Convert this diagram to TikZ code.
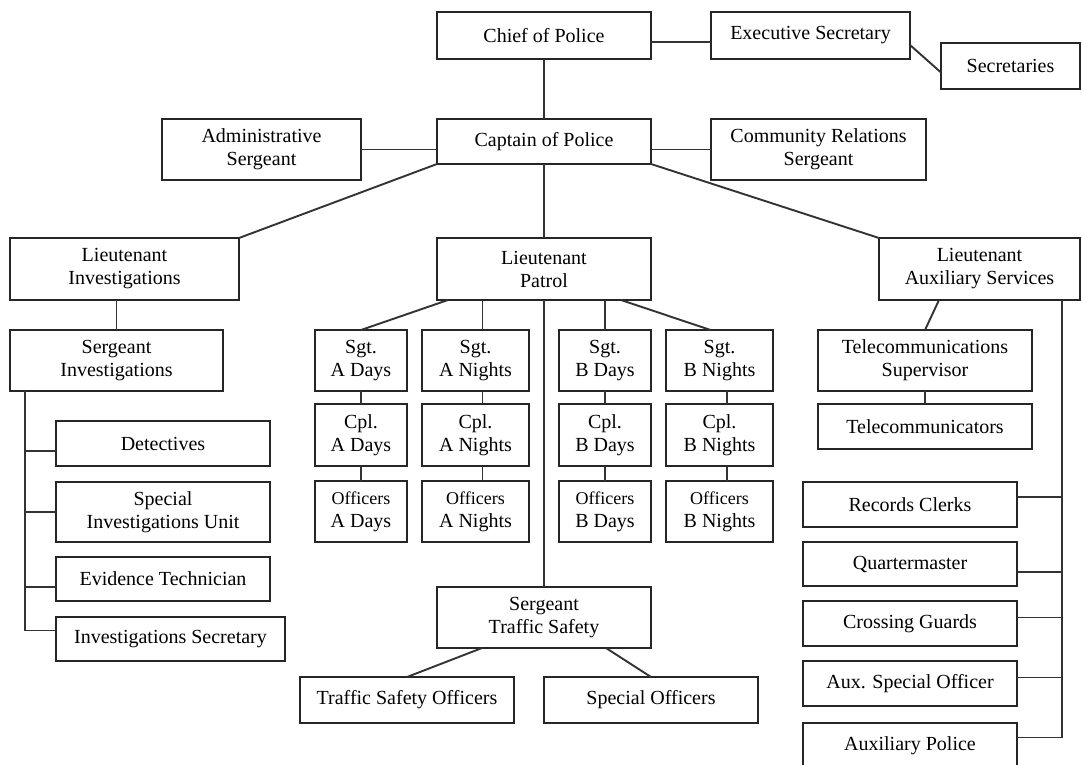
\documentclass[tikz,border=0pt]{standalone}
\usepackage{fontspec}
\setmainfont{Liberation Serif}
\newcommand\orgbox[6]{\node[box,minimum width={#4-#2},minimum height={#5-#3}] (#1) at ({(#2+#4)/2},{(#3+#5)/2}) {#6};}
\newcommand\offtxt{\fontsize{18}{22}\selectfont}
\tikzset{
  box/.style={draw=black!85,line width=1.6pt,rectangle,inner sep=0pt,outer sep=0pt,align=center,
    font=\fontsize{20}{23}\selectfont,fill=white},
  link/.style={draw=black!80,line width=1.9pt}
}
\begin{document}
\begin{tikzpicture}[x=1pt,y=-1pt]
\useasboundingbox (0,0) rectangle (1082,765);
\clip (0,0) rectangle (1082,765);
\fill[white] (0,0) rectangle (1082,765);
% top
\orgbox{chief}{437}{12}{651}{59}{Chief of Police}
\orgbox{exec}{711}{12}{910}{59}{Executive Secretary}
\orgbox{secs}{941}{43}{1080}{89}{Secretaries}
\orgbox{admin}{162}{119}{361}{180}{Administrative\\Sergeant}
\orgbox{captain}{437}{119}{651}{164}{Captain of Police}
\orgbox{comm}{711}{119}{926}{180}{Community Relations\\Sergeant}
% lieutenants
\orgbox{ltinv}{10}{238}{239}{300}{Lieutenant\\Investigations}
\orgbox{ltpat}{437}{238}{651}{300}{Lieutenant\\Patrol}
\orgbox{ltaux}{879}{238}{1080}{300}{Lieutenant\\Auxiliary Services}
% investigations
\orgbox{sgtinv}{10}{330}{223}{391}{Sergeant\\Investigations}
\orgbox{det}{56}{421}{270}{466}{Detectives}
\orgbox{siu}{56}{482}{270}{542}{Special\\Investigations Unit}
\orgbox{evid}{56}{557}{270}{601}{Evidence Technician}
\orgbox{isec}{56}{617}{285}{661}{Investigations Secretary}
% patrol
\orgbox{sad}{315}{330}{407}{391}{Sgt.\\A Days}
\orgbox{san}{422}{330}{529}{391}{Sgt.\\A Nights}
\orgbox{sbd}{559}{330}{651}{391}{Sgt.\\B Days}
\orgbox{sbn}{666}{330}{773}{391}{Sgt.\\B Nights}
\orgbox{cad}{315}{404}{407}{466}{Cpl.\\A Days}
\orgbox{can}{422}{404}{529}{466}{Cpl.\\A Nights}
\orgbox{cbd}{559}{404}{651}{466}{Cpl.\\B Days}
\orgbox{cbn}{666}{404}{773}{466}{Cpl.\\B Nights}
\orgbox{oad}{315}{481}{407}{542}{{\offtxt Officers}\\A Days}
\orgbox{oan}{422}{481}{529}{542}{{\offtxt Officers}\\A Nights}
\orgbox{obd}{559}{481}{651}{542}{{\offtxt Officers}\\B Days}
\orgbox{obn}{666}{481}{773}{542}{{\offtxt Officers}\\B Nights}
\orgbox{sts}{437}{587}{651}{648}{Sergeant\\Traffic Safety}
\orgbox{tso}{300}{677}{514}{723}{Traffic Safety Officers}
\orgbox{so}{544}{677}{758}{723}{Special Officers}
% auxiliary
\orgbox{tsup}{818}{330}{1032}{391}{Telecommunications\\Supervisor}
\orgbox{tcom}{818}{404}{1032}{449}{Telecommunicators}
\orgbox{rec}{803}{482}{1017}{527}{Records Clerks}
\orgbox{qm}{803}{542}{1017}{586}{Quartermaster}
\orgbox{cg}{803}{601}{1017}{646}{Crossing Guards}
\orgbox{aso}{803}{661}{1017}{706}{Aux. Special Officer}
\orgbox{ap}{803}{723}{1017}{768}{Auxiliary Police}
\coordinate (ibus) at (25,391);
\coordinate (abus) at (1062,300);
% connectors top
\draw[link] ([yshift=-6.5]chief.east) -- ([yshift=-6.5]exec.west);
\draw[link] ([yshift=-9.5]exec.east) -- ([yshift=-6.5]secs.west);
\draw[link] (chief.south) -- (captain.north);
\draw[link] (admin.east) -- (admin.east -| captain.west);
\draw[link] (comm.west) -- (comm.west -| captain.east);
\draw[link] (captain.south west) -- (ltinv.north east);
\draw[link] (captain.south east) -- (ltaux.north west);
\draw[link] (captain.south) -- (ltpat.north);
% investigations
\draw[link] (sgtinv.north) -- (sgtinv.north |- ltinv.south);
\draw[link] ([yshift=-7.5]det.west) -| (ibus);
\draw[link] (siu.west) -| (ibus);
\draw[link] ([yshift=-8]evid.west) -| (ibus);
\draw[link] ([yshift=8.5]isec.west) -| (ibus);
% patrol
\draw[link] ([xshift=-96]ltpat.south) -- (sad.north);
\draw[link] ([xshift=7]san.north) -- ([xshift=7]san.north |- ltpat.south);
\draw[link] (sbd.north) -- (sbd.north |- ltpat.south);
\draw[link] ([xshift=77]ltpat.south) -- ([xshift=-9]sbn.north);
\draw[link] (sad.south) -- (cad.north);
\draw[link] (cad.south) -- (oad.north);
\draw[link] ([xshift=7]san.south) -- ([xshift=7]can.north);
\draw[link] ([xshift=7]can.south) -- ([xshift=7]oan.north);
\draw[link] (sbd.south) -- (cbd.north);
\draw[link] (cbd.south) -- (obd.north);
\draw[link] ([xshift=7.5]sbn.south) -- ([xshift=7.5]cbn.north);
\draw[link] ([xshift=7.5]cbn.south) -- ([xshift=7.5]obn.north);
\draw[link] (ltpat.south) -- (sts.north);
\draw[link] ([xshift=-62]sts.south) -- (tso.north);
\draw[link] ([xshift=62]sts.south) -- (so.north);
% auxiliary
\draw[link] ([xshift=-40.5]ltaux.south) -- (tsup.north);
\draw[link] (tsup.south) -- (tcom.north);
\draw[link] ([yshift=7.5]rec.east) -| (abus);
\draw[link] ([yshift=-8]qm.east) -| (abus);
\draw[link] ([yshift=6]cg.east) -| (abus);
\draw[link] ([yshift=6]aso.east) -| (abus);
\draw[link] ([yshift=8]ap.east) -| (abus);
\end{tikzpicture}
\end{document}
